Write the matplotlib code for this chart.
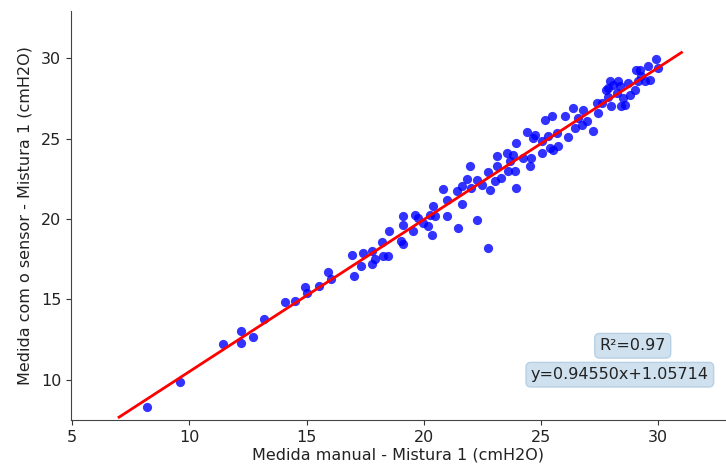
import matplotlib
matplotlib.use("Agg")
import matplotlib.pyplot as plt
import numpy as np

# medida manual (x) e medida com o sensor (y), Mistura 1, em cmH2O
manual = [
    8.21, 9.61, 11.43, 12.21, 12.21, 12.71, 13.20, 14.10, 14.51, 14.92,
    15.01, 15.52, 15.92, 16.04,
    16.93, 17.01, 17.32, 17.42, 17.81, 17.81, 17.92, 18.28, 18.46, 18.21,
    18.52,
    19.03, 19.10, 19.13, 19.13, 19.63, 19.55, 19.77, 19.98, 20.19, 20.34,
    20.27, 20.41, 20.48, 20.98, 20.98, 20.83, 21.41, 21.47, 21.62, 21.62,
    21.83, 21.97, 22.04, 22.26, 22.26,
    22.47, 22.75, 22.83, 23.04, 23.11, 22.75, 23.11, 23.32, 23.54, 23.61,
    23.82, 23.96, 23.89, 23.96, 24.25, 24.39, 24.53, 24.60, 24.67, 24.74,
    25.03, 25.03, 25.17, 25.31, 25.46, 25.38, 25.52, 25.74, 25.67, 23.68,
    26.14, 26.02, 26.38, 26.45, 26.59, 26.80, 26.74, 26.95, 27.23, 27.38,
    27.44, 27.59, 27.87, 27.94, 28.08, 28.01, 28.30, 28.23, 28.44, 28.51,
    28.72, 28.80, 29.01, 29.08, 29.22, 29.15, 29.29, 29.43, 29.58, 29.65,
    29.93, 30.00, 27.80, 28.58, 27.87, 28.37,
]
sensor = [
    8.34, 9.84, 12.26, 13.01, 12.31, 12.64, 13.80, 14.84, 14.88, 15.79,
    15.40, 15.84, 16.73, 16.27,
    17.78, 16.43, 17.10, 17.89, 17.99, 17.22, 17.52, 17.68, 17.68, 18.58,
    19.28,
    18.66, 18.47, 20.21, 19.61, 20.27, 19.23, 20.07, 19.76, 19.55, 19.03,
    20.27, 20.79, 20.17, 21.21, 20.17, 21.87, 21.72, 19.45, 20.94, 22.08,
    22.50, 23.32, 21.94, 19.92, 22.45,
    22.14, 22.91, 21.83, 22.35, 23.28, 18.20, 23.90, 22.56, 24.11, 22.97,
    24.01, 24.74, 22.97, 21.94, 23.80, 25.40, 23.28, 23.80, 25.05, 25.25,
    24.84, 24.11, 26.19, 25.15, 26.39, 24.42, 24.32, 24.52, 25.36, 23.59,
    25.08, 26.39, 26.91, 25.67, 26.29, 26.81, 25.87, 26.08, 25.46, 27.22,
    26.60, 27.22, 28.16, 28.57, 28.36, 27.01, 28.57, 27.85, 27.01, 27.54,
    28.47, 27.74, 28.05, 29.30, 29.30, 28.57, 28.88, 28.57, 29.50, 28.67,
    29.96, 29.40, 28.05, 27.12, 27.57, 28.26,
]

slope = 0.94550
intercept = 1.05714
r2 = 0.97
fit_x = [7, 31]

x_ticks = [5, 10, 15, 20, 25, 30]
y_ticks = [10, 15, 20, 25, 30]

fig = plt.figure(figsize=(7.26, 4.75), dpi=100)
ax = fig.add_axes([71 / 726, 55 / 475, 655 / 726, 409 / 475])

ax.scatter(manual, sensor, s=44, color="blue", alpha=0.8, linewidths=0, zorder=2)
fit_y = [slope * v + intercept for v in fit_x]
ax.plot(fit_x, fit_y, color="red", lw=2, zorder=3)

ax.set_xlim(4.95, 32.9)
ax.set_ylim(7.5, 32.95)
ax.set_xticks(x_ticks)
ax.set_yticks(y_ticks)
ax.tick_params(labelsize=11.5, color="#333333", labelcolor="#222222")
ax.set_xlabel("Medida manual - Mistura 1 (cmH2O)", fontsize=11.5, color="#222222", labelpad=2)
ax.set_ylabel("Medida com o sensor - Mistura 1 (cmH2O)", fontsize=11.5, color="#222222", labelpad=6)

for side in ["top", "right"]:
    ax.spines[side].set_visible(False)
for side in ["left", "bottom"]:
    ax.spines[side].set_color("#444444")

box = dict(boxstyle="round,pad=0.3", facecolor="#cfe1ef", edgecolor="#b7d0e4", lw=1)
ax.text(28.92, 12.12, f"R\u00b2={r2:.2f}", ha="center", va="center", fontsize=11.5,
        color="#222222", bbox=box)
ax.text(28.37, 10.32, f"y={slope:.5f}x+{intercept:.5f}", ha="center", va="center",
        fontsize=11.5, color="#222222", bbox=box)

fig.savefig("out.png", dpi=100)
